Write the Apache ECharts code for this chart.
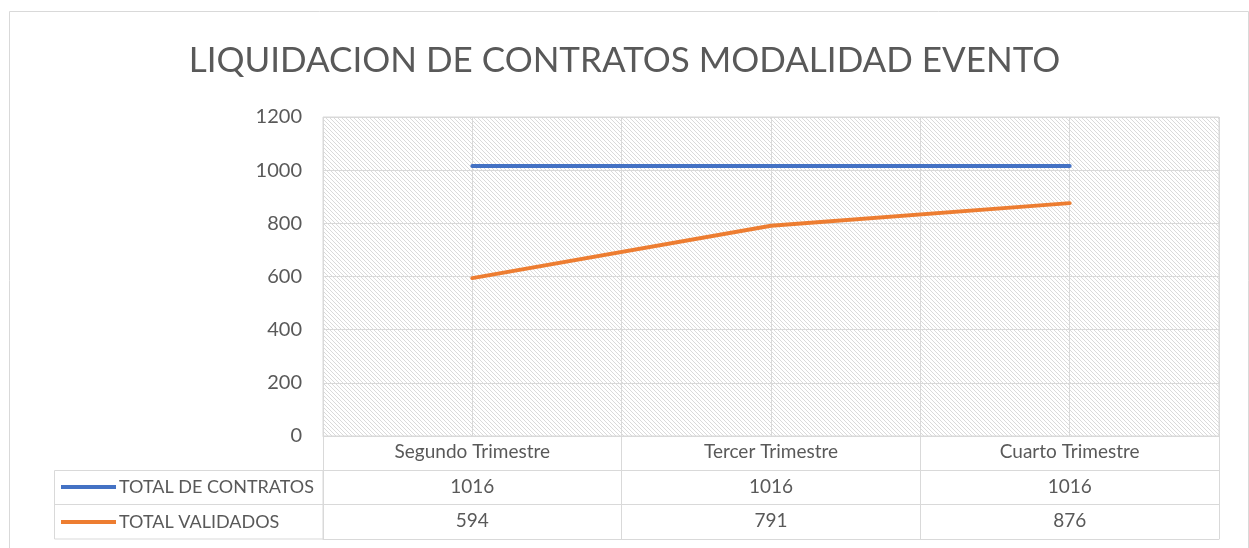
<!DOCTYPE html>
<html><head><meta charset="utf-8">
<script src="https://cdn.jsdelivr.net/npm/echarts@6/dist/echarts.min.js"></script>
<style>html,body{margin:0;padding:0;background:#fff}#c{width:1249px;height:548px}</style>
</head><body><div id="c"></div>
<script>
const TITLE = 'LIQUIDACION DE CONTRATOS MODALIDAD EVENTO';
const categories = ['Segundo Trimestre', 'Tercer Trimestre', 'Cuarto Trimestre'];
const seriesNames = ['TOTAL DE CONTRATOS', 'TOTAL VALIDADOS'];
const totalContratos = [1016, 1016, 1016];
const totalValidados = [594, 791, 876];
const yTicks = [0, 200, 400, 600, 800, 1000, 1200];
const colors = ['#4472C4', '#ED7D31'];

const FONT = 'Lato, "Open Sans", sans-serif';
const TXT = '#595959';
const GRIDC = '#d9d9d9';

// hatch pattern
const pc = document.createElement('canvas');
pc.width = 4; pc.height = 4;
const pctx = pc.getContext('2d');
pctx.fillStyle = '#ffffff'; pctx.fillRect(0,0,4,4);
pctx.fillStyle = '#dadada';
for (let i = 0; i < 4; i++) pctx.fillRect(i, i, 1, 1);

const chart = echarts.init(document.getElementById('c'), null, {renderer: 'canvas'});
const rowAxis = (data, offset, tickLen, margin, showLabel) => ({
  type: 'category', data: data, position: 'bottom', offset: offset, gridIndex: 0,
  boundaryGap: true,
  axisLine: {show: true, lineStyle: {color: GRIDC, width: 1}},
  axisTick: {show: tickLen > 0, length: tickLen, inside: false, lineStyle: {color: GRIDC, width: 1}},
  axisLabel: {show: showLabel, margin: margin, verticalAlign: 'middle', fontFamily: FONT, fontSize: 19, color: TXT, interval: 0},
  splitLine: {show: false}
});
chart.setOption({
  animation: false,
  title: {text: TITLE, left: 'center', top: 38, textStyle: {fontFamily: FONT, fontSize: 35, fontWeight: 'normal', color: TXT}},
  grid: {left: 323, right: 30, top: 117, bottom: 112, show: true, borderColor: GRIDC, borderWidth: 1,
         backgroundColor: {image: pc, repeat: 'repeat'}},
  legend: [
    {data: [seriesNames[0]], left: 61, top: 478, padding: 0, itemWidth: 55, itemHeight: 4, icon: 'rect', itemGap: 4,
     textStyle: {fontFamily: FONT, fontSize: 18, color: TXT, padding: [0, 0, 0, -2]}},
    {data: [seriesNames[1]], left: 61, top: 513, padding: 0, itemWidth: 55, itemHeight: 4, icon: 'rect', itemGap: 4,
     textStyle: {fontFamily: FONT, fontSize: 18, color: TXT, padding: [0, 0, 0, -2]}}
  ],
  xAxis: [
    rowAxis(categories, 0, 34, 16, true),
    rowAxis(totalContratos.map(String), 34, 34, 17, true),
    rowAxis(totalValidados.map(String), 68, 35, 17, true),
    rowAxis(categories, 103, 0, 0, false),
    {type: 'value', min: 0, max: 6, interval: 1, show: true, axisLine: {show: false}, axisTick: {show: false}, axisLabel: {show: false},
     splitLine: {show: true, lineStyle: {color: GRIDC, width: 1}}}
  ],
  yAxis: {type: 'value', min: yTicks[0], max: yTicks[yTicks.length-1], interval: 200,
    axisLine: {show: false}, axisTick: {show: false},
    axisLabel: {margin: 21, fontFamily: FONT, fontSize: 20, color: TXT, formatter: v => String(v)},
    splitLine: {show: true, lineStyle: {color: GRIDC, width: 1}}},
  series: [
    {name: seriesNames[0], type: 'line', xAxisIndex: 0, data: totalContratos, symbol: 'none', color: colors[0],
     lineStyle: {width: 4, cap: 'round'}, itemStyle: {color: colors[0]}, z: 3},
    {name: seriesNames[1], type: 'line', xAxisIndex: 0, data: totalValidados, symbol: 'none', color: colors[1],
     lineStyle: {width: 4, cap: 'round'}, itemStyle: {color: colors[1]}, z: 3}
  ],
  graphic: [
    {type: 'rect', shape: {x: 9.5, y: 11.5, width: 1239, height: 560}, style: {fill: 'none', stroke: GRIDC, lineWidth: 1}, silent: true},
    {type: 'rect', shape: {x: 54.5, y: 470.5, width: 268.5, height: 68.5}, style: {fill: 'none', stroke: GRIDC, lineWidth: 1}, silent: true},
    {type: 'line', shape: {x1: 54.5, y1: 504.5, x2: 323, y2: 504.5}, style: {stroke: GRIDC, lineWidth: 1}, silent: true}
  ]
});
</script></body></html>
